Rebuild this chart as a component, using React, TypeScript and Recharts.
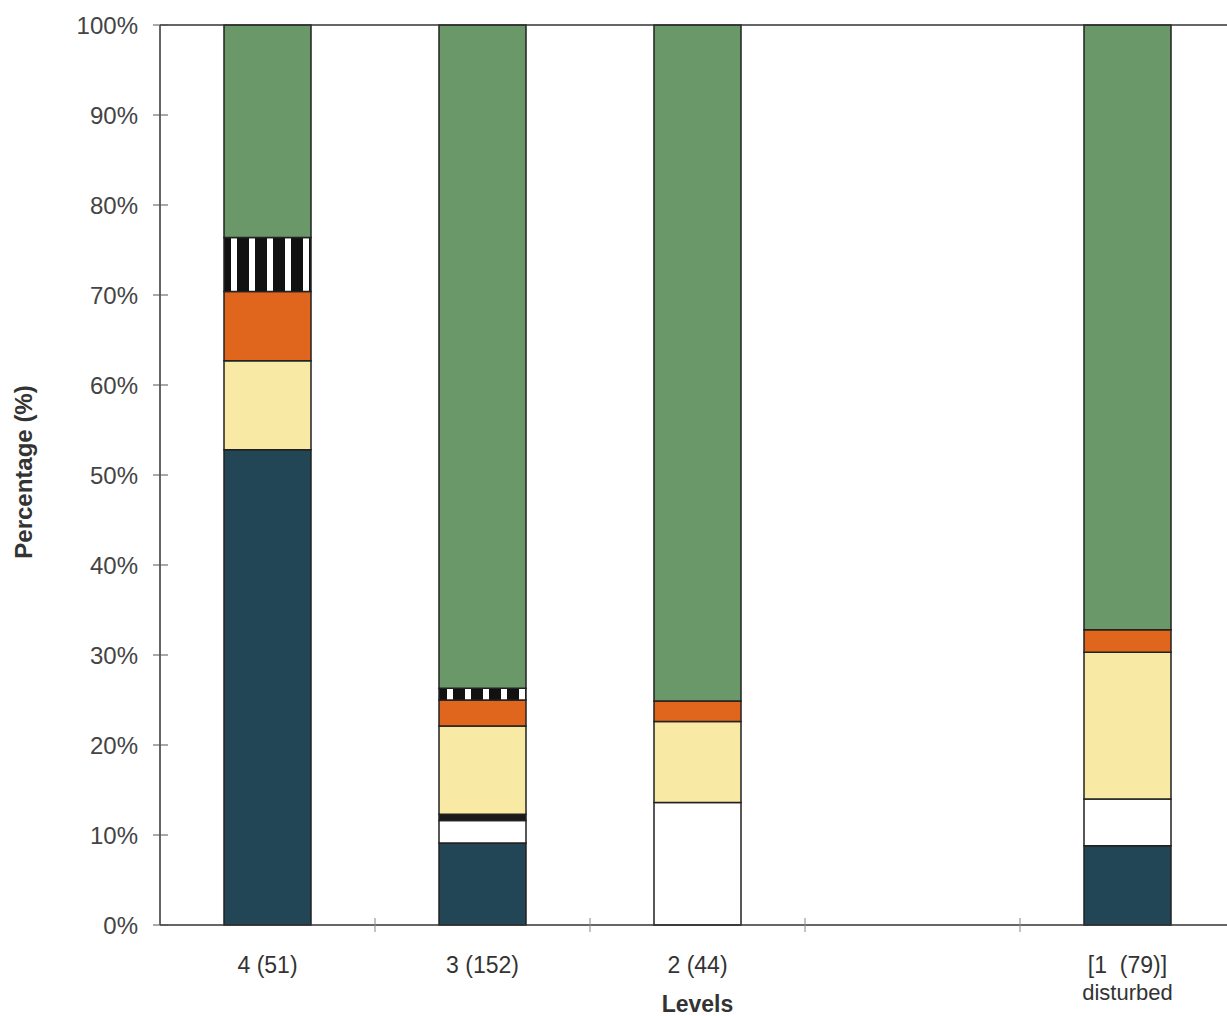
import React from 'react';
import { BarChart, Bar, XAxis, YAxis, ReferenceLine, Label } from 'recharts';

const categories = ['4 (51)', '3 (152)', '2 (44)', '', '[1\u00a0\u00a0(79)]|disturbed'];
const blueVals = [52.8, 9.1, 0, null, 8.8];
const whiteVals = [0, 2.5, 13.6, null, 5.2];
const blackVals = [0, 0.7, 0, null, 0];
const yellowVals = [9.9, 9.8, 9.0, null, 16.3];
const orangeVals = [7.7, 2.9, 2.3, null, 2.5];
const stripedVals = [6.0, 1.3, 0, null, 0];
const greenVals = [23.6, 73.7, 75.1, null, 67.2];
const yTicks = [0, 10, 20, 30, 40, 50, 60, 70, 80, 90, 100];

const data = categories.map((c, i) => ({
  name: c,
  blue: blueVals[i],
  white: whiteVals[i],
  black: blackVals[i],
  yellow: yellowVals[i],
  orange: orangeVals[i],
  striped: stripedVals[i],
  green: greenVals[i],
}));

const FONT = '"Liberation Sans", Arial, sans-serif';

const YTick = (props: any) => {
  const { x, y, payload } = props;
  return (
    <g>
      <line x1={x + 1} x2={x + 16} y1={y} y2={y} stroke="#555" strokeWidth={1} />
      <text x={x - 14} y={y} dy={8.5} textAnchor="end" fontSize={24} fill="#444" fontFamily={FONT}>
        {payload.value}%
      </text>
    </g>
  );
};

const XTick = (props: any) => {
  const { x, y, payload } = props;
  const off = payload.offset || 0;
  const lines = String(payload.value).split('|');
  return (
    <g>
      <line x1={x + off} x2={x + off} y1={y - 15} y2={y - 1} stroke="#888" strokeWidth={1} />
      {lines.map((l, i) => (
        <text key={i} x={x} y={y + 40 + i * 27} textAnchor="middle" fontSize={i === 0 ? 23 : 22} fill="#333" fontFamily={FONT}>
          {l}
        </text>
      ))}
    </g>
  );
};

export default function App() {
  return (
    <div style={{ position: 'absolute', left: 0, top: 0, width: 1227, height: 1016, overflow: 'hidden', background: '#fff' }}>
      <BarChart width={1235} height={1016} data={data} margin={{ top: 25, right: 0, left: 0, bottom: 0 }} barSize={87}>
        <defs>
          <pattern id="stripes" patternUnits="userSpaceOnUse" width="18" height="10" x="3">
            <rect width="18" height="10" fill="#fff" />
            <rect x="0" width="12" height="10" fill="#111" />
          </pattern>
        </defs>
        <YAxis
          type="number"
          domain={[0, 100]}
          ticks={yTicks}
          width={160}
          axisLine={{ stroke: '#333', strokeWidth: 1.5 }}
          tickLine={false}
          tick={<YTick />}
          interval={0}
        >
          <Label
            content={({ viewBox }: any) => (
              <text
                x={23}
                y={viewBox.y + viewBox.height / 2 - 3}
                transform={`rotate(-90 23 ${viewBox.y + viewBox.height / 2 - 3})`}
                textAnchor="middle"
                dominantBaseline="central"
                fontSize={24}
                fontWeight="bold"
                fill="#333"
                fontFamily={FONT}
              >
                Percentage (%)
              </text>
            )}
          />
        </YAxis>
        <XAxis
          dataKey="name"
          height={91}
          axisLine={{ stroke: '#333', strokeWidth: 1.5 }}
          tickLine={false}
          tick={<XTick />}
          interval={0}
        >
          <Label
            content={({ viewBox }: any) => (
              <text
                x={viewBox.x + viewBox.width / 2}
                y={1012}
                textAnchor="middle"
                fontSize={23}
                fontWeight="bold"
                fill="#333"
                fontFamily={FONT}
              >
                Levels
              </text>
            )}
          />
        </XAxis>
        <ReferenceLine y={100} stroke="#333" strokeWidth={1.5} />
        <Bar dataKey="blue" stackId="a" fill="#224656" stroke="#222" strokeWidth={1.5} isAnimationActive={false} />
        <Bar dataKey="white" stackId="a" fill="#ffffff" stroke="#222" strokeWidth={1.5} isAnimationActive={false} />
        <Bar dataKey="black" stackId="a" fill="#1a1a1a" stroke="#222" strokeWidth={1.5} isAnimationActive={false} />
        <Bar dataKey="yellow" stackId="a" fill="#f8eaa5" stroke="#222" strokeWidth={1.5} isAnimationActive={false} />
        <Bar dataKey="orange" stackId="a" fill="#e0661e" stroke="#222" strokeWidth={1.5} isAnimationActive={false} />
        <Bar dataKey="striped" stackId="a" fill="url(#stripes)" stroke="#222" strokeWidth={1.5} isAnimationActive={false} />
        <Bar dataKey="green" stackId="a" fill="#6a9868" stroke="#222" strokeWidth={1.5} isAnimationActive={false} />
      </BarChart>
    </div>
  );
}
